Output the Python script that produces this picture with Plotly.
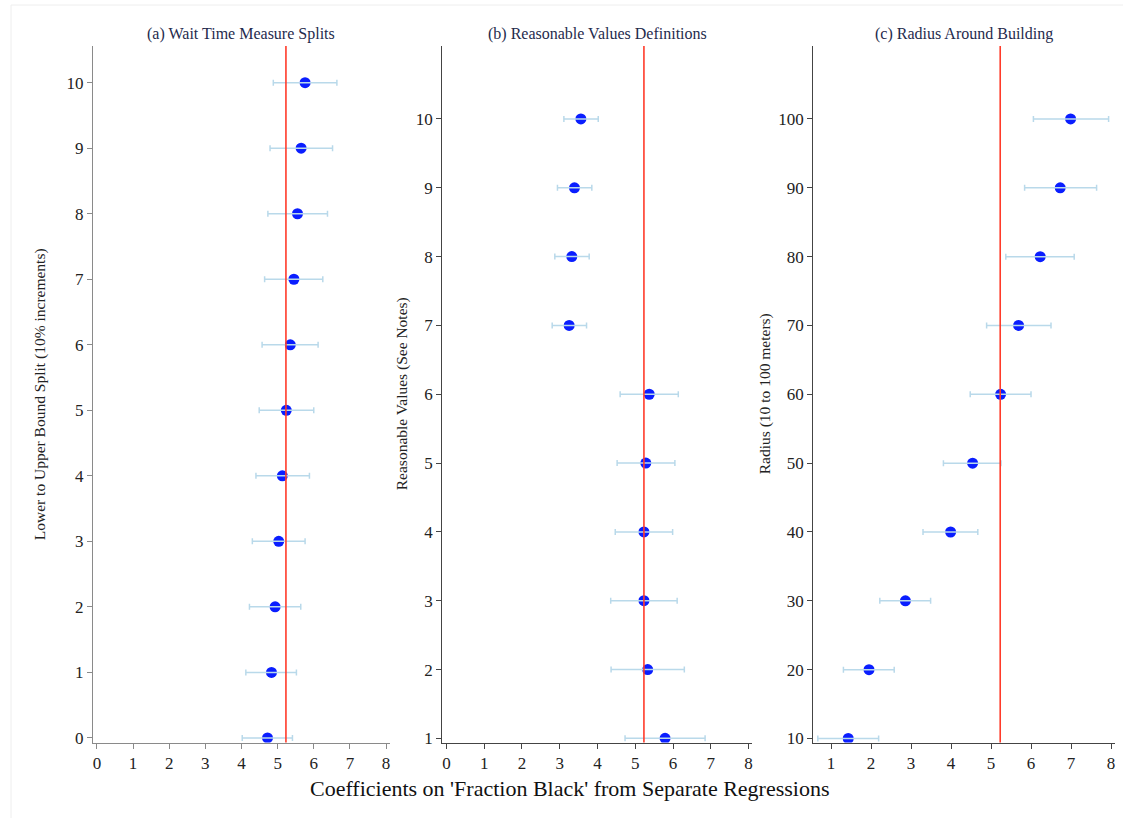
import plotly.graph_objects as go

# ---------------- data ----------------
a_y = [0, 1, 2, 3, 4, 5, 6, 7, 8, 9, 10]
a_coef = [4.72, 4.83, 4.93, 5.03, 5.13, 5.24, 5.35, 5.45, 5.55, 5.65, 5.76]
a_lo = [4.02, 4.12, 4.22, 4.30, 4.40, 4.49, 4.57, 4.64, 4.73, 4.79, 4.88]
a_hi = [5.41, 5.52, 5.64, 5.76, 5.88, 6.00, 6.12, 6.25, 6.38, 6.52, 6.64]

b_y = [1, 2, 3, 4, 5, 6, 7, 8, 9, 10]
b_coef = [5.79, 5.33, 5.23, 5.23, 5.28, 5.37, 3.25, 3.32, 3.39, 3.56]
b_lo = [4.73, 4.36, 4.35, 4.47, 4.52, 4.60, 2.80, 2.87, 2.94, 3.11]
b_hi = [6.85, 6.30, 6.11, 5.99, 6.05, 6.14, 3.71, 3.78, 3.85, 4.02]

c_y = [10, 20, 30, 40, 50, 60, 70, 80, 90, 100]
c_coef = [1.43, 1.95, 2.86, 3.99, 4.54, 5.24, 5.69, 6.23, 6.73, 6.99]
c_lo = [0.67, 1.31, 2.22, 3.30, 3.81, 4.48, 4.89, 5.37, 5.84, 6.06]
c_hi = [2.19, 2.58, 3.49, 4.67, 5.25, 6.00, 6.50, 7.08, 7.64, 7.94]

baseline = 5.23

titles = ["(a) Wait Time Measure Splits", "(b) Reasonable Values Definitions",
          "(c) Radius Around Building"]
ytitles = ["Lower to Upper Bound Split (10% increments)", "Reasonable Values (See Notes)",
           "Radius (10 to 100 meters)"]
xtitle = "Coefficients on 'Fraction Black' from Separate Regressions"

a_xticks = [0, 1, 2, 3, 4, 5, 6, 7, 8]
b_xticks = [0, 1, 2, 3, 4, 5, 6, 7, 8]
c_xticks = [1, 2, 3, 4, 5, 6, 7, 8]

# ---------------- layout geometry ----------------
# body margin is removed in the page, so the figure fills the window exactly
W, H = 1123, 818
FONT = "Liberation Serif"


def px_x(p):
    return p / W


def px_y(p):
    return 1 - p / H


panels = [
    dict(y=a_y, coef=a_coef, lo=a_lo, hi=a_hi, xdom=(93, 390), xr=(-0.11, 8.11),
         yr=(-0.07, 10.56), xt=a_xticks, yt=a_y, ytx=40, axc="#8a8a8a"),
    dict(y=b_y, coef=b_coef, lo=b_lo, hi=b_hi, xdom=(442.3, 752.3), xr=(-0.11, 8.1),
         yr=(0.94, 11.06), xt=b_xticks, yt=b_y, ytx=402, axc="#444444"),
    dict(y=c_y, coef=c_coef, lo=c_lo, hi=c_hi, xdom=(813.3, 1115), xr=(0.557, 8.1),
         yr=(9.42, 110.6), xt=c_xticks, yt=c_y, ytx=765, axc="#444444"),
]

fig = go.Figure()
layout = dict(
    width=W, height=H,
    margin=dict(l=0, r=0, t=0, b=0, autoexpand=False),
    paper_bgcolor="white", plot_bgcolor="white",
    showlegend=False,
    font=dict(family=FONT, color="#222222"),
    shapes=[], annotations=[],
)

top_px, bot_px = 46, 742.5

for i, p in enumerate(panels):
    n = "" if i == 0 else str(i + 1)
    xa, ya = "x" + n, "y" + n
    err_plus = [h - c for h, c in zip(p["hi"], p["coef"])]
    err_minus = [c - l for c, l in zip(p["coef"], p["lo"])]
    fig.add_trace(go.Scatter(
        x=p["coef"], y=p["y"], mode="markers", xaxis=xa, yaxis=ya,
        marker=dict(color="#0a1eff", size=11, line=dict(width=0)),
        hoverinfo="skip"))
    fig.add_trace(go.Scatter(
        x=p["coef"], y=p["y"], mode="markers", xaxis=xa, yaxis=ya,
        marker=dict(color="rgba(0,0,0,0)", size=1),
        error_x=dict(type="data", symmetric=False, array=err_plus, arrayminus=err_minus,
                     color="#b9d9ea", thickness=1.5, width=3),
        hoverinfo="skip"))

    axis_common = dict(showgrid=False, zeroline=False, showline=True, linecolor=p["axc"],
                       linewidth=1.2, ticks="outside", ticklen=5, tickcolor=p["axc"],
                       ticklabeloverflow="allow", automargin=False,
                       tickfont=dict(family=FONT, size=17, color="#222222"))
    layout["xaxis" + n] = dict(axis_common, domain=[px_x(p["xdom"][0]), px_x(p["xdom"][1])],
                               range=list(p["xr"]), tickvals=p["xt"], anchor=ya)
    layout["yaxis" + n] = dict(axis_common, domain=[px_y(bot_px), px_y(top_px)],
                               range=list(p["yr"]), tickvals=p["yt"], anchor=xa)

    # reference line
    layout["shapes"].append(dict(type="line", xref=xa, yref=ya + " domain", x0=baseline,
                                 x1=baseline, y0=0, y1=1, layer="above",
                                 line=dict(color="#ff3b2a", width=1.6)))
    # subplot title
    layout["annotations"].append(dict(
        text=titles[i], xref="paper", yref="paper",
        x=(px_x(p["xdom"][0]) + px_x(p["xdom"][1])) / 2, y=px_y(34),
        xanchor="center", yanchor="middle", showarrow=False,
        font=dict(family=FONT, size=16, color="#1f2b4d")))
    # y-axis title
    layout["annotations"].append(dict(
        text=ytitles[i], xref="paper", yref="paper", x=px_x(p["ytx"]),
        y=px_y((top_px + bot_px) / 2), xanchor="center", yanchor="middle",
        textangle=-90, showarrow=False, font=dict(family=FONT, size=15.5, color="#222222")))

layout["annotations"].append(dict(
    text=xtitle, xref="paper", yref="paper", x=px_x(570), y=px_y(788),
    xanchor="center", yanchor="middle", showarrow=False,
    font=dict(family=FONT, size=22, color="#111111")))

# faint frame lines (left and top)
layout["shapes"].append(dict(type="line", xref="paper", yref="paper", x0=px_x(11), x1=px_x(11),
                             y0=0, y1=px_y(5), line=dict(color="#eeeeee", width=1)))
layout["shapes"].append(dict(type="line", xref="paper", yref="paper", x0=px_x(11), x1=1,
                             y0=px_y(5), y1=px_y(5), line=dict(color="#eeeeee", width=1)))

fig.update_layout(**layout)
fig.write_html("out.html",
               config={"displayModeBar": False},
               post_script="document.body.style.margin='0';"
                           "document.body.style.overflow='hidden';")
